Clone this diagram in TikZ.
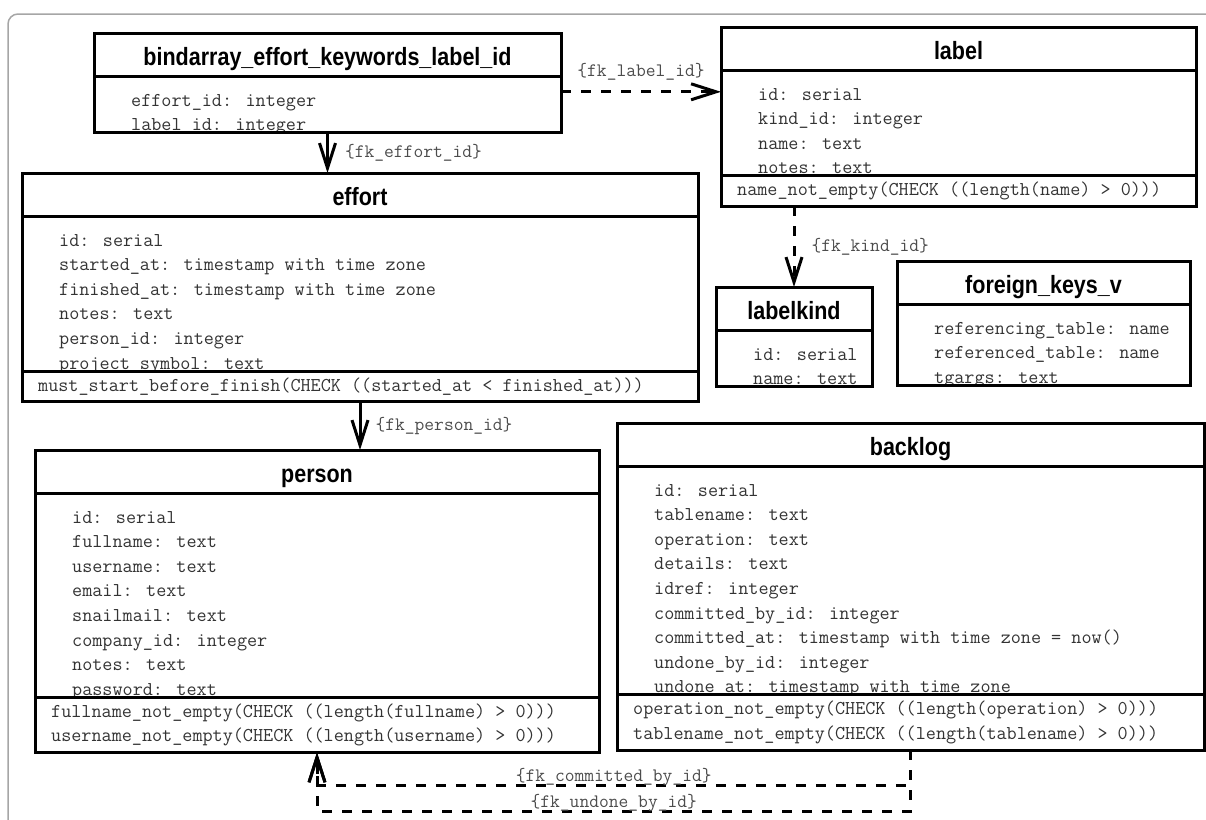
\documentclass[tikz,border=0pt]{standalone}
\usepackage{fontspec}
\newfontfamily\titlefont[FakeStretch=0.86]{Liberation Sans}
\usetikzlibrary{arrows.meta,calc}
\pgfkeys{
  /dbtable/.cd,
  name/.initial={t},
  title/.initial={},
  position/.initial={(0,0)},
  width/.initial=100,
  fields/.initial={},
  checks/.initial={},
}
\makeatletter
\newcommand{\dbtable}[1][]{
  {
    \pgfkeys{
      /dbtable/.cd,
      #1,
      /dbtable/name/.get=\dbtable@name,
      /dbtable/title/.get=\dbtable@title,
      /dbtable/position/.get=\dbtable@position,
      /dbtable/width/.get=\dbtable@width,
      /dbtable/fields/.get=\dbtable@fields,
      /dbtable/checks/.get=\dbtable@checks
    }
    % count the rows of both parts
    \xdef\dbtable@n{0}
    \foreach \f [count=\i] in \dbtable@fields {\xdef\dbtable@n{\i}}
    \xdef\dbtable@m{0}
    \ifx\dbtable@checks\pgfutil@empty\else
      \foreach \c [count=\i] in \dbtable@checks {\xdef\dbtable@m{\i}}
    \fi
    \pgfmathsetmacro\dbtable@body{\dbtable@n*24.6+7.4}
    \pgfmathsetmacro\dbtable@chk{\dbtable@m*24.6+6*(\dbtable@m>0)}
    \pgfmathsetmacro\dbtable@total{43+\dbtable@body+\dbtable@chk}
    \path \dbtable@position node[tabframe,anchor=north west,minimum width=\dbtable@width,minimum height=\dbtable@total] (\dbtable@name) {};
    \node[tabhead,anchor=north,minimum width=\dbtable@width] (\dbtable@name-head) at (\dbtable@name.north) {\dbtable@title};
    \begin{scope}
      \clip (\dbtable@name-head.south west) rectangle ++(\dbtable@width,\dbtable@body);
      \foreach \f [count=\i] in \dbtable@fields
        \node[tabfield] (\dbtable@name-f\i) at ($(\dbtable@name-head.south west)+(37,{30+(\i-1)*24.6})$) {\f};
    \end{scope}
    \ifnum\dbtable@m>0
      \foreach \c [count=\i] in \dbtable@checks
        \node[tabfield] (\dbtable@name-c\i) at ($(\dbtable@name-head.south west)+(16,{\dbtable@body+20+(\i-1)*24.6})$) {\c};
      \draw[tabline] ($(\dbtable@name-head.south west)+(0,\dbtable@body)$) -- +(\dbtable@width,0);
    \fi
    \draw[tabline] (\dbtable@name-head.south west) -- (\dbtable@name-head.south east);
    \draw[tabline] (\dbtable@name.north west) rectangle (\dbtable@name.south east);
  }
}
\makeatother
\tikzset{
  tabline/.style={line width=3pt},
  tabframe/.style={inner sep=0pt,outer sep=0pt},
  tabhead/.style={font=\titlefont\bfseries\fontsize{25}{30}\selectfont,minimum height=43pt,inner sep=0pt,outer sep=0pt,text height=21.5pt,text depth=0.5pt},
  tabfield/.style={font=\ttfamily\fontsize{19.6}{24}\selectfont,text=black!80,inner sep=0pt,anchor=base west},
  fkline/.style={line width=3pt,-{Straight Barb[length=25pt,width=16pt]}},
  fkdash/.style={fkline,dash pattern=on 10pt off 10pt},
  fklabel/.style={font=\ttfamily\fontsize{19}{22}\selectfont,text=black!70,inner sep=0pt},
  frameline/.style={draw=black!35,line width=1.5pt,rounded corners=10pt}
}
\begin{document}
\begin{tikzpicture}[x=1pt,y=-1pt]
      \useasboundingbox (0,0) rectangle (1206,819);
      \draw[frameline] (8,14) rectangle (1240,850);

      \dbtable[/dbtable/name=bindarray,/dbtable/title=bindarray\_effort\_keywords\_label\_id,
        /dbtable/position={(94,33)},/dbtable/width=467,
        /dbtable/fields={{effort\_id: integer},{label\_id: integer}}]
      \dbtable[/dbtable/name=label,/dbtable/title=label,
        /dbtable/position={(721,27)},/dbtable/width=475,
        /dbtable/fields={{id: serial},{kind\_id: integer},{name: text},{notes: text}},
        /dbtable/checks={{name\_not\_empty(CHECK ((length(name) > 0)))}}]
      \dbtable[/dbtable/name=effort,/dbtable/title=effort,
        /dbtable/position={(22,173)},/dbtable/width=676,
        /dbtable/fields={{id: serial},{started\_at: timestamp with time zone},
          {finished\_at: timestamp with time zone},{notes: text},
          {person\_id: integer},{project\_symbol: text}},
        /dbtable/checks={{must\_start\_before\_finish(CHECK ((started\_at < finished\_at)))}}]
      \dbtable[/dbtable/name=labelkind,/dbtable/title=labelkind,
        /dbtable/position={(716,287)},/dbtable/width=156,
        /dbtable/fields={{id: serial},{name: text}}]
      \dbtable[/dbtable/name=fkeys,/dbtable/title=foreign\_keys\_v,
        /dbtable/position={(897,261)},/dbtable/width=293,
        /dbtable/fields={{referencing\_table: name},{referenced\_table: name},{tgargs: text}}]
      \dbtable[/dbtable/name=backlog,/dbtable/title=backlog,
        /dbtable/position={(617,423)},/dbtable/width=587,
        /dbtable/fields={{id: serial},{tablename: text},{operation: text},{details: text},
          {idref: integer},{committed\_by\_id: integer},
          {committed\_at: timestamp with time zone = now()},
          {undone\_by\_id: integer},{undone\_at: timestamp with time zone}},
        /dbtable/checks={{operation\_not\_empty(CHECK ((length(operation) > 0)))},
          {tablename\_not\_empty(CHECK ((length(tablename) > 0)))}}]
      \dbtable[/dbtable/name=person,/dbtable/title=person,
        /dbtable/position={(35,450)},/dbtable/width=564,
        /dbtable/fields={{id: serial},{fullname: text},{username: text},{email: text},
          {snailmail: text},{company\_id: integer},{notes: text},{password: text}},
        /dbtable/checks={{fullname\_not\_empty(CHECK ((length(fullname) > 0)))},
          {username\_not\_empty(CHECK ((length(username) > 0)))}}]

      % foreign keys
      \coordinate (lblfrom) at ([yshift=-9pt]bindarray.east);
      \draw[fkdash] (lblfrom) -- (lblfrom -| label.west)
        node[midway,fklabel,above=10pt] {\{fk\_label\_id\}};
      \draw[fkline] (bindarray.south) -- (bindarray.south |- effort.north)
        node[midway,fklabel,anchor=west,xshift=16pt] {\{fk\_effort\_id\}};
      \draw[fkdash] (labelkind.north |- label.south) -- (labelkind.north)
        node[midway,fklabel,anchor=west,xshift=16pt] {\{fk\_kind\_id\}};
      \draw[fkline] (effort.south) -- (effort.south |- person.north)
        node[midway,fklabel,anchor=west,xshift=14pt] {\{fk\_person\_id\}};
      \coordinate (cmtbend) at ([yshift=-35pt]backlog.south);
      \coordinate (undbend) at ([yshift=-61pt]backlog.south);
      \draw[fkdash] (backlog.south) -- (cmtbend) -| (person.south)
        node[pos=0.25,fklabel,anchor=south,yshift=-2pt] {\{fk\_committed\_by\_id\}};
      \draw[fkdash] (backlog.south) -- (undbend) -| (person.south)
        node[pos=0.25,fklabel,anchor=south,yshift=-2pt] {\{fk\_undone\_by\_id\}};
    \end{tikzpicture}
\end{document}
